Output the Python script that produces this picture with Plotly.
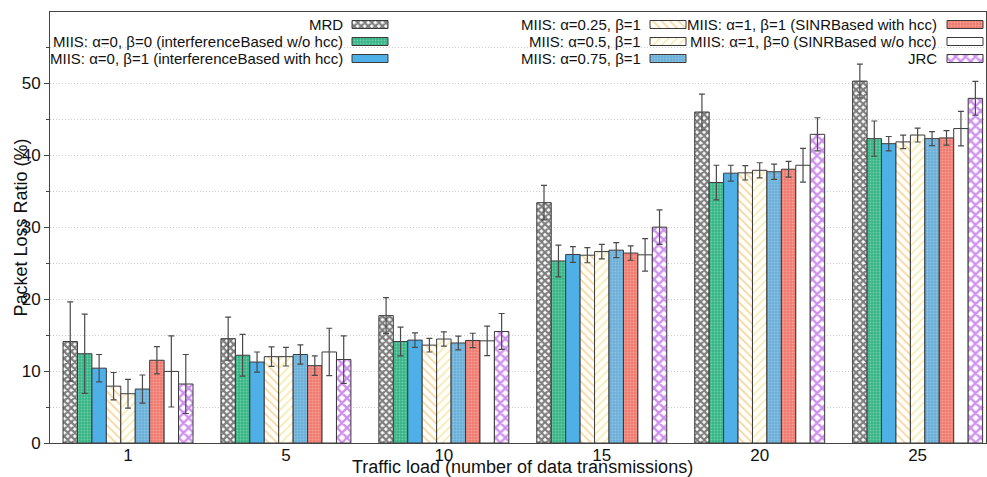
import plotly.graph_objects as go

categories = ["1", "5", "10", "15", "20", "25"]

series_names = [
    "MRD",
    "MIIS: α=0, β=0 (interferenceBased w/o hcc)",
    "MIIS: α=0, β=1 (interferenceBased with hcc)",
    "MIIS: α=0.25, β=1",
    "MIIS: α=0.5, β=1",
    "MIIS: α=0.75, β=1",
    "MIIS: α=1, β=1 (SINRBased with hcc)",
    "MIIS: α=1, β=0 (SINRBased w/o hcc)",
    "JRC",
]

mrd = [14.1, 14.5, 17.7, 33.4, 46.0, 50.3]
mrd_err = [5.5, 3.0, 2.5, 2.4, 2.5, 2.35]
miis_00 = [12.4, 12.2, 14.1, 25.3, 36.2, 42.3]
miis_00_err = [5.5, 2.9, 2.0, 2.2, 2.4, 2.45]
miis_01 = [10.4, 11.25, 14.3, 26.2, 37.5, 41.6]
miis_01_err = [1.9, 1.4, 1.0, 1.1, 1.1, 1.0]
miis_025 = [7.9, 12.0, 13.6, 26.1, 37.55, 41.85]
miis_025_err = [1.9, 1.35, 0.95, 1.05, 1.0, 0.95]
miis_05 = [6.85, 12.0, 14.45, 26.6, 37.9, 42.8]
miis_05_err = [2.0, 1.3, 1.0, 1.0, 1.05, 0.97]
miis_075 = [7.5, 12.3, 13.9, 26.8, 37.7, 42.3]
miis_075_err = [1.95, 1.35, 0.95, 1.05, 1.05, 0.97]
miis_11 = [11.5, 10.75, 14.25, 26.4, 38.05, 42.4]
miis_11_err = [1.9, 1.35, 1.0, 1.0, 1.1, 1.0]
miis_10 = [9.95, 12.65, 14.2, 26.15, 38.6, 43.7]
miis_10_err = [4.95, 3.3, 2.05, 2.25, 2.35, 2.4]
jrc = [8.2, 11.6, 15.5, 30.0, 42.9, 47.9]
jrc_err = [4.1, 3.3, 2.5, 2.4, 2.3, 2.35]

values = [mrd, miis_00, miis_01, miis_025, miis_05, miis_075, miis_11, miis_10, jrc]
errors = [mrd_err, miis_00_err, miis_01_err, miis_025_err, miis_05_err,
          miis_075_err, miis_11_err, miis_10_err, jrc_err]

# styles: (base color, pattern dict or None)
styles = [
    ("white", dict(shape="x", fgcolor="#000000", bgcolor="white", size=5, solidity=0.7)),
    ("#38b888", dict(shape=".", fgcolor="#a6e4c8", bgcolor="#36b486", size=3, solidity=0.35)),
    ("#4eb0e6", None),
    ("white", dict(shape="\\", fgcolor="#f0ad35", bgcolor="white", size=6, solidity=0.3)),
    ("white", dict(shape="/", fgcolor="#f3d65e", bgcolor="white", size=6, solidity=0.3)),
    ("#6cafd8", dict(shape=".", fgcolor="#b0d6ee", bgcolor="#6aaed7", size=3, solidity=0.35)),
    ("#f07c70", dict(shape=".", fgcolor="#fcc6bf", bgcolor="#ef7a6e", size=3, solidity=0.35)),
    ("white", None),
    ("white", dict(shape="x", fgcolor="#a020e0", bgcolor="white", size=7, solidity=0.55)),
]

fig = go.Figure()

for name, vals, errs, (col, pat) in zip(series_names, values, errors, styles):
    marker = dict(color=col, line=dict(color="#3a3a3a", width=1))
    if pat is not None:
        marker["pattern"] = pat
    fig.add_trace(go.Bar(
        x=categories, y=vals, name=name, marker=marker,
        error_y=dict(type="data", array=errs, color="#4a4a4a", thickness=1.2, width=3),
        showlegend=False,
    ))

# ---- page geometry (body margin removed via post_script) ----
W, H = 987, 477
PLOT_L, PLOT_R, PLOT_T, PLOT_B = 50, 986, 12, 443   # window pixels
L, R, T, B = PLOT_L, W - PLOT_R, PLOT_T, H - PLOT_B
pw, ph = PLOT_R - PLOT_L, PLOT_B - PLOT_T


def fx(px):
    return (px - PLOT_L) / pw


def fy(py):
    return (PLOT_B - py) / ph


# ---- custom legend (text then swatch, as in the original) ----
col_text_right = [345, 643, 939]
col_swatch_left = [352, 650, 947]
row_centers = [24.5, 41.5, 58.5]
sw_w, sw_h = 36, 8

for i, (name, (col, pat)) in enumerate(zip(series_names, styles)):
    c, r = i // 3, i % 3
    yc = fy(row_centers[r])
    fig.add_annotation(
        x=fx(col_text_right[c]), y=yc, xref="paper", yref="paper",
        text=name, showarrow=False, xanchor="right", yanchor="middle",
        font=dict(family="Liberation Sans, Arial", size=15, color="#111"),
    )
    marker = dict(color=col, line=dict(color="#3a3a3a", width=1))
    if pat is not None:
        marker["pattern"] = pat
    h = sw_h / ph
    fig.add_trace(go.Bar(
        orientation="h", y=[yc], x=[sw_w / pw], base=[fx(col_swatch_left[c])],
        width=[h], offset=[-h / 2], marker=marker,
        xaxis="x2", yaxis="y2", showlegend=False, hoverinfo="skip",
    ))

fig.add_annotation(
    x=fx(20), y=0.5, xref="paper", yref="paper", text="Packet Loss Ratio (%)",
    textangle=-90, showarrow=False, xanchor="center", yanchor="middle",
    font=dict(family="Liberation Sans, Arial", size=18, color="#111"),
)
fig.add_annotation(
    x=fx(522), y=fy(467), xref="paper", yref="paper",
    text="Traffic load (number of data transmissions)",
    showarrow=False, xanchor="center", yanchor="middle",
    font=dict(family="Liberation Sans, Arial", size=18, color="#111"),
)

fig.update_layout(
    width=W, height=H,
    margin=dict(l=L, r=R, t=T, b=B, pad=0),
    barmode="group", bargap=0.177, bargroupgap=0,
    plot_bgcolor="white", paper_bgcolor="white",
    font=dict(family="Liberation Sans, Arial", size=17, color="#111"),
    xaxis=dict(
        type="category", range=[-0.494, 5.433], showline=True, linecolor="#444",
        linewidth=1, mirror=True, ticks="", showgrid=False, zeroline=False,
        tickfont=dict(size=17), ticklabelstandoff=-3,
    ),
    yaxis=dict(
        range=[0, 59.9], dtick=10, showline=True, linecolor="#444", linewidth=1,
        mirror=True, ticks="outside", ticklen=5, tickcolor="#444",
        showgrid=True, gridcolor="#cccccc", griddash="1px,2px", gridwidth=1,
        zeroline=False, tickfont=dict(size=17),
        minor=dict(dtick=5, ticks="outside", ticklen=3, tickcolor="#444",
                   showgrid=True, gridcolor="#cccccc", griddash="1px,2px"),
    ),
    xaxis2=dict(overlaying="x", anchor="y2", range=[0, 1], visible=False, fixedrange=True),
    yaxis2=dict(overlaying="y", anchor="x2", range=[0, 1], visible=False, fixedrange=True),
)

fig.write_html(
    "out.html",
    config={"displayModeBar": False},
    post_script="document.body.style.margin='0';document.body.style.overflow='hidden';",
)
